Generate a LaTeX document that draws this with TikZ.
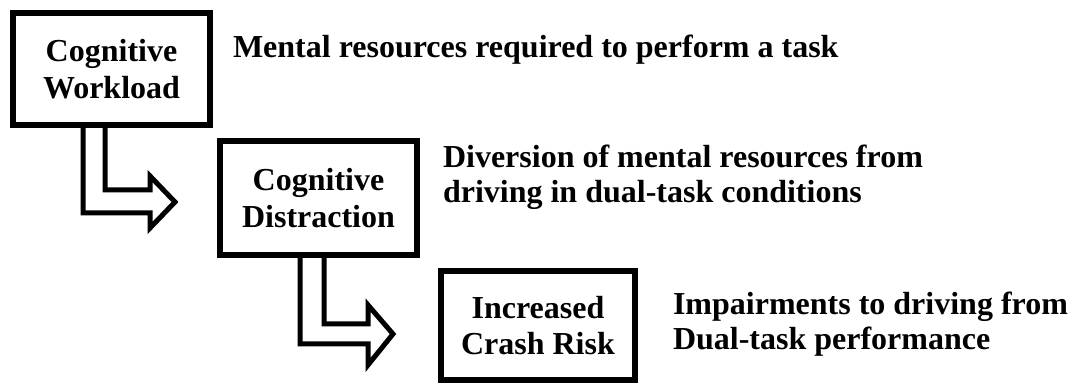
\documentclass[tikz,border=0pt]{standalone}
\usepackage{fontspec}
\setmainfont{Liberation Serif}
\usetikzlibrary{calc}
\tikzset{
  stagebox/.style={draw=black, line width=5.5pt, inner sep=0pt, outer sep=0pt,
    align=center, font=\fontsize{32}{36.5}\selectfont\bfseries},
  desctext/.style={anchor=base west, inner sep=0pt, outer sep=0pt,
    font=\fontsize{32}{35}\selectfont\bfseries},
  bentarrow/.style={draw=black, line width=5pt, line join=miter}
}
\newcommand{\twolines}[2]{\vtop{\hbox{#1}\hbox{#2}}}
\begin{document}
\begin{tikzpicture}[x=1pt, y=-1pt]
\useasboundingbox (0,0) rectangle (1072,387);
% boxes
\node[stagebox, minimum width=197pt, minimum height=112pt] (b1) at (111.5,69) {Cognitive\\Workload};
\node[stagebox, minimum width=197pt, minimum height=114pt] (b2) at (318.5,198) {Cognitive\\Distraction};
\node[stagebox, minimum width=194pt, minimum height=109pt] (b3) at (538,325.5) {\raisebox{-3pt}{Increased}\\\raisebox{-3pt}{Crash Risk}};
% descriptions
\node[desctext] (d1) at (233,58) {Mental resources required to perform a task};
\node[desctext] (d2) at (443,168) {\twolines{Diversion of mental resources from}{driving in dual-task conditions}};
\node[desctext] (d3) at (673,315) {\twolines{Impairments to driving from}{Dual-task performance}};
% bent block arrows
\coordinate (a1) at (b1.south west);
\draw[bentarrow] ($(a1)+(70,0)$) -- ($(a1)+(70,88)$) -- ($(a1)+(137,88)$) -- ($(a1)+(137,103)$)
  -- ($(a1)+(162,77)$) -- ($(a1)+(137,51)$) -- ($(a1)+(137,65)$) -- ($(a1)+(92,65)$) -- ($(a1)+(92,0)$);
\coordinate (a2) at (b2.south west);
\draw[bentarrow] ($(a2)+(80,0)$) -- ($(a2)+(80,89)$) -- ($(a2)+(148,89)$) -- ($(a2)+(148,110)$)
  -- ($(a2)+(173,79)$) -- ($(a2)+(148,50)$) -- ($(a2)+(148,69)$) -- ($(a2)+(104,69)$) -- ($(a2)+(104,0)$);
\end{tikzpicture}
\end{document}
